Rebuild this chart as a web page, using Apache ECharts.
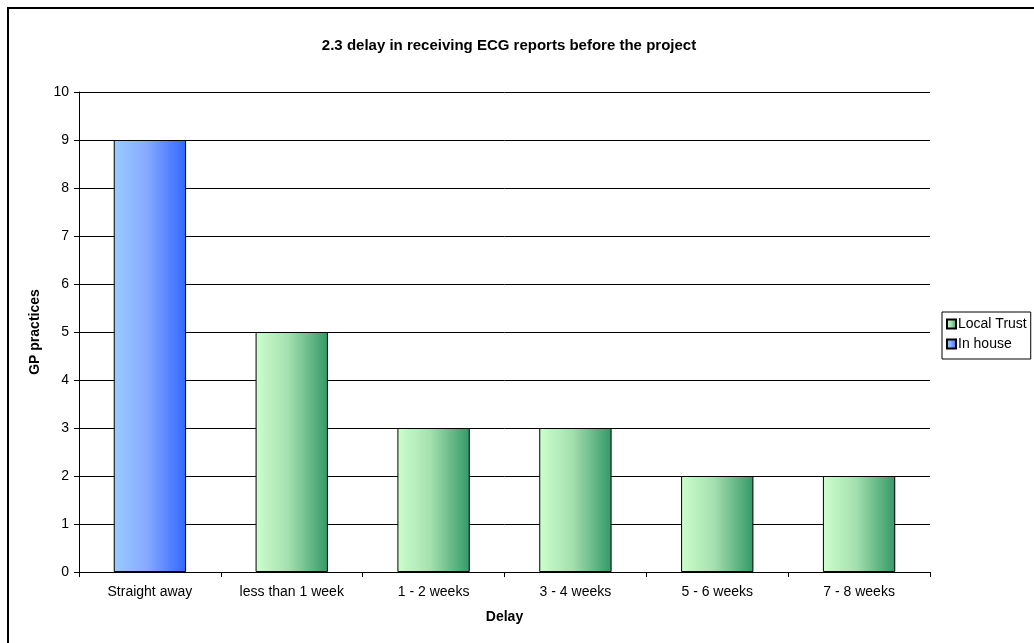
<!DOCTYPE html>
<html>
<head>
<meta charset="utf-8">
<script src="https://cdn.jsdelivr.net/npm/echarts@6/dist/echarts.min.js"></script>
<style>
  html, body { margin: 0; padding: 0; background: #fff; }
  #frame { position: absolute; left: 7px; top: 7px; width: 1040px; height: 650px;
           border-left: 2px solid #000; border-top: 2px solid #000; box-sizing: border-box; }
  #chart { position: absolute; left: 0; top: 0; width: 1034px; height: 643px; }
</style>
</head>
<body>
<div id="frame"></div>
<div id="chart"></div>
<script>
// Delay categories on the x axis
const categories = ['Straight away', 'less than 1 week', '1 - 2 weeks', '3 - 4 weeks', '5 - 6 weeks', '7 - 8 weeks'];
// Number of GP practices per delay, split by who reports the ECG
const localTrust = [null, 5, 3, 3, 2, 2];
const inHouse = [9, null, null, null, null, null];
const yTicks = { min: 0, max: 10, interval: 1 };

const font = 'Liberation Sans, Arial, sans-serif';
const greenFill = new echarts.graphic.LinearGradient(0, 0, 1, 0, [
  { offset: 0, color: '#ccffcc' },
  { offset: 0.45, color: '#a6e0b0' },
  { offset: 1, color: '#339966' }
]);
const blueFill = new echarts.graphic.LinearGradient(0, 0, 1, 0, [
  { offset: 0, color: '#99ccff' },
  { offset: 0.45, color: '#88aaff' },
  { offset: 1, color: '#3366ff' }
]);

const chart = echarts.init(document.getElementById('chart'), null, { renderer: 'canvas' });
chart.setOption({
  animation: false,
  backgroundColor: 'transparent',
  textStyle: { fontFamily: font, color: '#000' },
  title: {
    text: '2.3 delay in receiving ECG reports before the project',
    left: 504, top: 33, textAlign: 'center',
    textStyle: { fontFamily: font, fontSize: 15, fontWeight: 'bold', color: '#000' }
  },
  legend: {
    orient: 'vertical',
    left: 942, top: 312,
    padding: [5, 4, 8, 4],
    itemGap: 6,
    itemWidth: 9, itemHeight: 9,
    icon: 'rect',
    borderColor: '#000', borderWidth: 1,
    backgroundColor: '#fff',
    textStyle: { fontFamily: font, fontSize: 14, color: '#000', padding: [0, 0, 0, -3] },
    data: ['Local Trust', 'In house']
  },
  grid: { left: 79, right: 104, top: 92, bottom: 71 },
  xAxis: {
    type: 'category',
    data: categories,
    name: 'Delay',
    nameLocation: 'middle',
    nameGap: 38,
    nameTextStyle: { fontFamily: font, fontSize: 14, fontWeight: 'bold', color: '#000' },
    axisLine: { lineStyle: { color: '#000', width: 1 } },
    axisTick: { show: true, length: 5, lineStyle: { color: '#000' } },
    axisLabel: { fontFamily: font, fontSize: 14, color: '#000', margin: 13 },
    splitLine: { show: false }
  },
  yAxis: {
    type: 'value',
    min: yTicks.min, max: yTicks.max, interval: yTicks.interval,
    name: 'GP practices',
    nameLocation: 'middle',
    nameGap: 31,
    nameRotate: 90,
    nameTextStyle: { fontFamily: font, fontSize: 14, fontWeight: 'bold', color: '#000' },
    axisLine: { show: true, lineStyle: { color: '#000', width: 1 } },
    axisTick: { show: true, length: 5, lineStyle: { color: '#000' } },
    axisLabel: { fontFamily: font, fontSize: 14, color: '#000', margin: 10 },
    splitLine: { show: true, lineStyle: { color: '#000', width: 1 } }
  },
  series: [
    {
      name: 'Local Trust', type: 'bar', stack: 'all',
      barWidth: '51%',
      data: localTrust,
      itemStyle: { color: greenFill, borderColor: '#000', borderWidth: 1 }
    },
    {
      name: 'In house', type: 'bar', stack: 'all',
      barWidth: '51%',
      data: inHouse,
      itemStyle: { color: blueFill, borderColor: '#000', borderWidth: 1 }
    }
  ]
});
</script>
</body>
</html>
